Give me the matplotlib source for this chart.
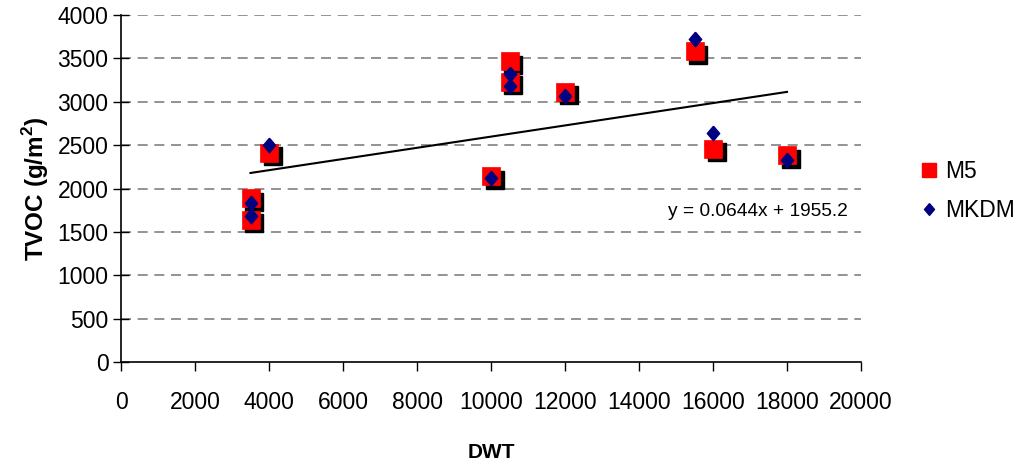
import matplotlib
matplotlib.use("Agg")
import matplotlib.pyplot as plt
from matplotlib.transforms import offset_copy
from matplotlib.lines import Line2D

plt.rcParams['font.family'] = ['Liberation Sans', 'DejaVu Sans']
plt.rcParams['mathtext.fontset'] = 'custom'
plt.rcParams['mathtext.rm'] = 'Liberation Sans'
plt.rcParams['mathtext.bf'] = 'Liberation Sans:bold'

# Data
dwt = [3500, 3500, 4000, 10000, 10500, 10500, 12000, 15500, 16000, 18000]
tvoc_m5 = [1890, 1640, 2415, 2145, 3470, 3230, 3115, 3585, 2460, 2385]
tvoc_mkdm = [1835, 1685, 2505, 2125, 3320, 3185, 3070, 3725, 2640, 2330]
slope = 0.0644
intercept = 1955.2
trend_x = [3500, 18000]
x_ticks = [0, 2000, 4000, 6000, 8000, 10000, 12000, 14000, 16000, 18000, 20000]
y_ticks = [0, 500, 1000, 1500, 2000, 2500, 3000, 3500, 4000]

fig = plt.figure(figsize=(10.21, 4.65), dpi=100)
ax = fig.add_axes([121 / 1021, 1 - 362.3 / 465, (861 - 121) / 1021, (362.3 - 15) / 465])

ax.set_xlim(0, 20000)
ax.set_ylim(0, 4000)

# horizontal dashed grid
for yv in y_ticks[1:]:
    ax.axhline(yv, color='#808080', lw=1.2, ls=(0, (6, 4)), zorder=0.5)

# trend line
trend_y = [slope * v + intercept for v in trend_x]
ax.plot(trend_x, trend_y, color='black', lw=1.5, zorder=1)

# M5 squares with drop shadow
shadow = offset_copy(ax.transData, fig=fig, x=3.5, y=-3.5, units='dots')
ax.plot(dwt, tvoc_m5, ls='none', marker='s', ms=13, color='black',
        mec='black', transform=shadow, zorder=2)
ax.plot(dwt, tvoc_m5, ls='none', marker='s', ms=13, color='#ff0000',
        mec='#ff0000', mew=0.5, zorder=3)

# MKDM diamonds
diamond = [(0, 1), (0.85, 0), (0, -1), (-0.85, 0), (0, 1)]
ax.plot(dwt, tvoc_mkdm, ls='none', marker=diamond, ms=10.5, color='#000080',
        mec='#000080', zorder=4)

ax.set_xticks(x_ticks)
ax.set_yticks(y_ticks)
ax.set_xticklabels([str(v) for v in x_ticks])
ax.set_yticklabels([str(v) for v in y_ticks])
ax.tick_params(axis='x', direction='out', length=6.5, width=1, labelsize=16.5, pad=14)
ax.tick_params(axis='y', direction='inout', length=12, width=1, labelsize=16.5, pad=3)

for s in ['top', 'right']:
    ax.spines[s].set_visible(False)
for s in ['left', 'bottom']:
    ax.spines[s].set_linewidth(1.2)

ax.set_xlabel('DWT', fontsize=15, fontweight='bold', labelpad=21)
ax.set_ylabel(r'TVOC (g/m$^{\mathbf{2}}$)', fontsize=17.5, fontweight='bold', labelpad=5)

fig.text(668 / 1021, 1 - 211 / 465, 'y = 0.0644x + 1955.2', fontsize=13.8,
         ha='left', va='center')

handles = [
    Line2D([], [], ls='none', marker='s', ms=10.5, color='#ff0000', mec='#ff0000'),
    Line2D([], [], ls='none', marker=diamond, ms=8.5, color='#000080', mec='#000080'),
]
fig.legend(handles, ['M5', 'MKDM'], loc='center left',
           bbox_to_anchor=(906 / 1021, 1 - 191 / 465), frameon=False,
           fontsize=16.5, handlelength=1.0, handletextpad=0.2, labelspacing=0.72,
           borderpad=0)

fig.savefig('out.png', dpi=100)
